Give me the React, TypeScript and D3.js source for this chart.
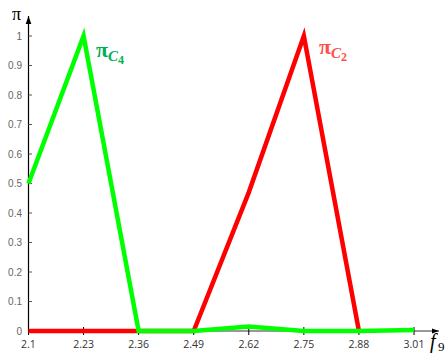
import React from "react";
import * as d3 from "d3";

const xLabels = ["2.1", "2.23", "2.36", "2.49", "2.62", "2.75", "2.88", "3.01"];
const greenValues = [0.5, 1, 0, 0, 0.015, 0, 0, 0.003];
const redValues = [0, 0, 0, 0, 0.47, 1, 0];
const yTicks = [0, 0.1, 0.2, 0.3, 0.4, 0.5, 0.6, 0.7, 0.8, 0.9, 1];

export default function App() {
  const W = 448, H = 356;
  const x = d3.scalePoint<string>().domain(xLabels).range([28.5, 414]);
  const y = d3.scaleLinear().domain([0, 1]).range([331, 36]);
  const line = d3
    .line<number>()
    .x((_, i) => x(xLabels[i]) as number)
    .y((d) => y(d));
  return (
    <svg width={W} height={H} style={{ position: "absolute", left: 0, top: 0, background: "#fff" }}>
      <defs>
        <marker id="arr" viewBox="0 0 10 10" refX="10" refY="5" markerWidth="7" markerHeight="7" orient="auto">
          <path d="M0,1.5 L10,5 L0,8.5 Z" fill="#000" />
        </marker>
      </defs>
      <line x1={28.5} y1={331} x2={439} y2={331} stroke="#333" strokeWidth={1} markerEnd="url(#arr)" />
      {xLabels.map((l) => (
        <g key={l}>
          <line x1={x(l)} x2={x(l)} y1={327} y2={335} stroke="#000" strokeWidth={1} />
          <text x={x(l)} y={348} textAnchor="middle" fontFamily="Open Sans, sans-serif" fontSize={10.5} fill="#333">
            {l}
          </text>
        </g>
      ))}
      <line x1={28.5} y1={331} x2={28.5} y2={16} stroke="#000" strokeWidth={1.2} markerEnd="url(#arr)" />
      {yTicks.map((t) => (
        <g key={t}>
          <line x1={28.5} x2={32} y1={y(t)} y2={y(t)} stroke="#555" strokeWidth={1} />
          <text x={22} y={y(t) + 3.5} textAnchor="end" fontFamily="Liberation Sans, Arial, sans-serif" fontSize={10} fill="#666">
            {t}
          </text>
        </g>
      ))}
      <text x={12} y={20} fontFamily="Liberation Serif, serif" fontSize={18} fill="#000">π</text>
      <text x={430} y={348} fontFamily="Liberation Serif, serif" fontStyle="italic" fontSize={20} fill="#000">f</text>
      <text x={438} y={351} fontFamily="Liberation Serif, serif" fontSize={13} fill="#000">9</text>
      <path d={line(redValues) || ""} fill="none" stroke="#ff0000" strokeWidth={4.5} strokeLinejoin="miter" />
      <path d={line(greenValues) || ""} fill="none" stroke="#00ff00" strokeWidth={4.5} strokeLinejoin="miter" />
      <text x={96} y={57} fill="#00b050" fontFamily="Liberation Serif, serif" fontWeight="bold" fontSize={22}>
        π
        <tspan dy={4} fontSize={15} fontStyle="italic">C</tspan>
        <tspan dy={3} fontSize={12}>4</tspan>
      </text>
      <text x={319} y={54} fill="#ff4d4d" fontFamily="Liberation Serif, serif" fontWeight="bold" fontSize={22}>
        π
        <tspan dy={4} fontSize={15} fontStyle="italic">C</tspan>
        <tspan dy={3} fontSize={12}>2</tspan>
      </text>
    </svg>
  );
}
